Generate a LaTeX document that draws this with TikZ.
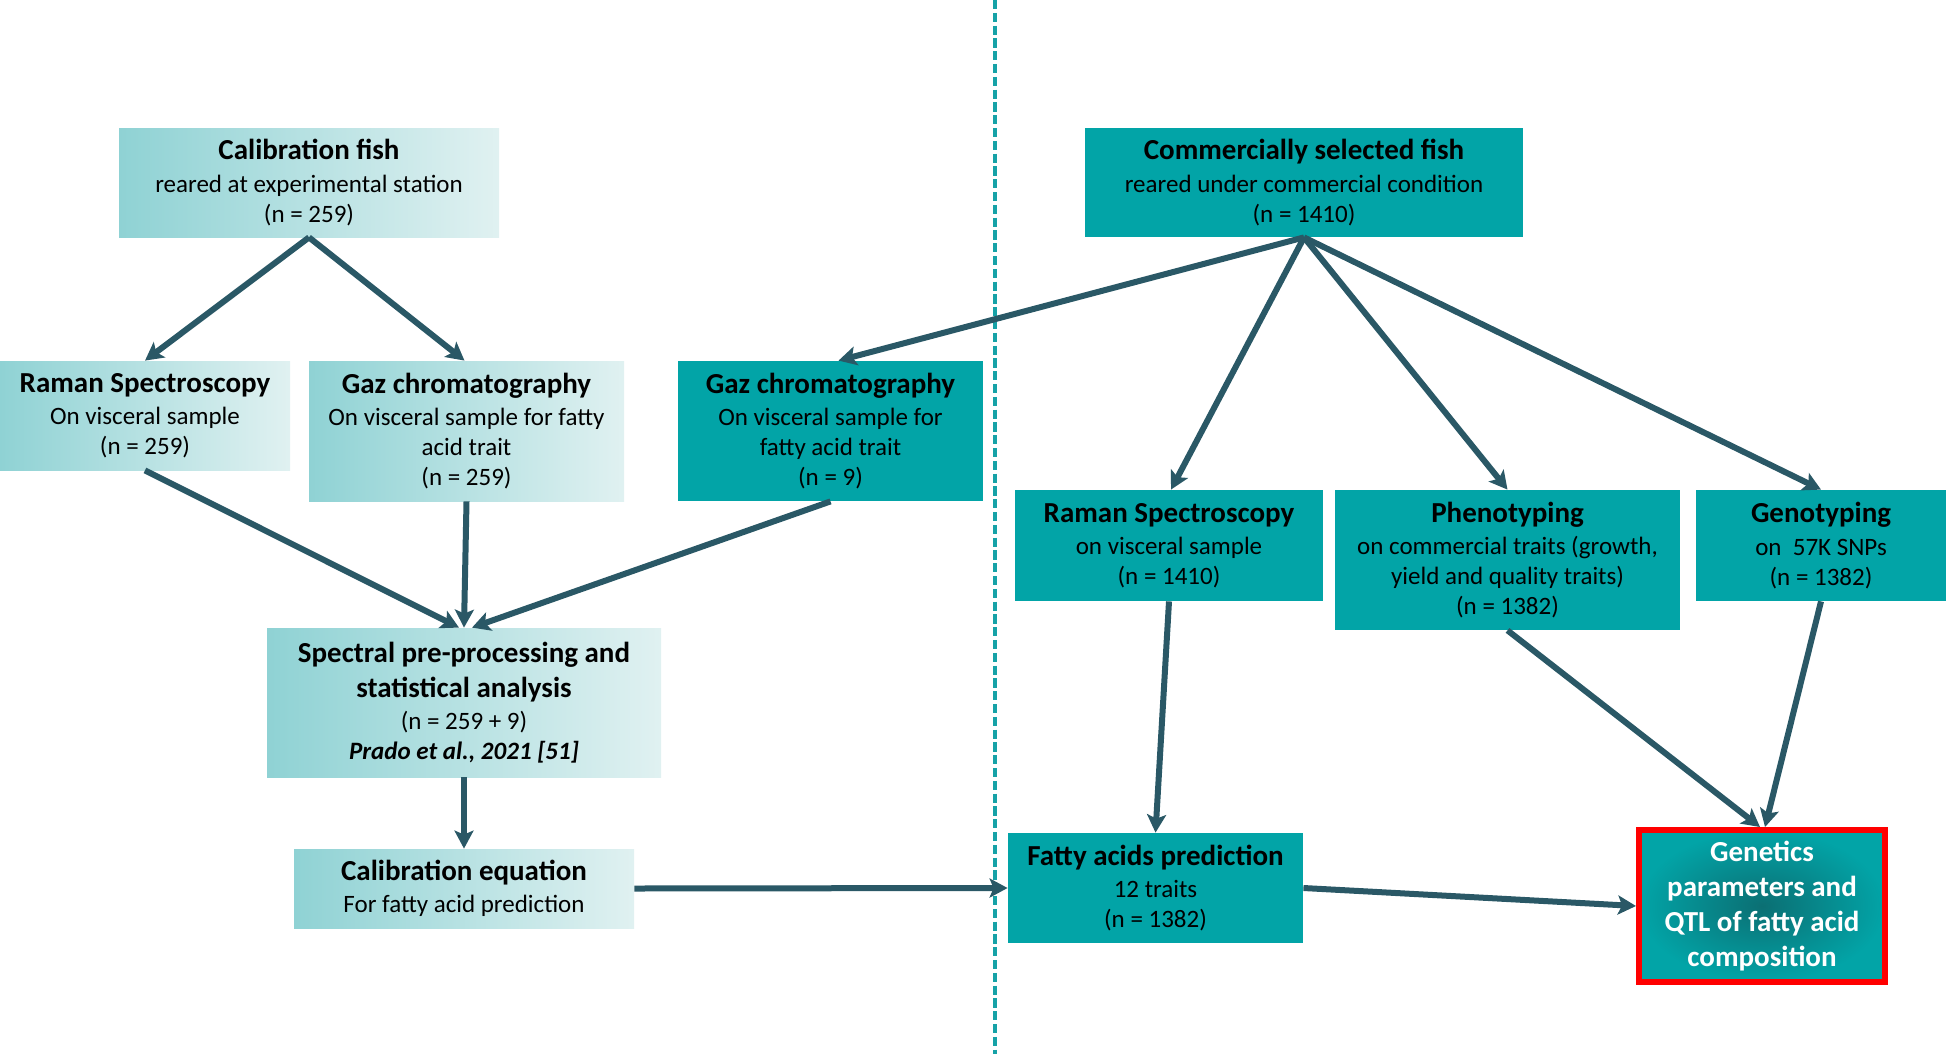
\documentclass[tikz,border=0pt]{standalone}
\usepackage{fontspec}
\setmainfont{Carlito}
\usetikzlibrary{arrows.meta,calc}
\definecolor{lL}{HTML}{8FD2D4}
\definecolor{lR}{HTML}{E0F1F1}
\definecolor{tealD}{HTML}{02A4A7}
\definecolor{tealIn}{HTML}{0B6F73}
\definecolor{arrC}{HTML}{2A5866}
\definecolor{sepC}{HTML}{16A2A7}
\definecolor{redB}{HTML}{FF0000}
\newcommand{\ttl}[1]{{\fontsize{14.5}{17.5}\selectfont\bfseries #1}}
\begin{document}
\begin{tikzpicture}[x=0.5pt,y=-0.5pt,
  box/.style={inner sep=0pt, align=center, font=\fontsize{12.5}{15}\selectfont, text=black},
  light/.style={box, left color=lL, right color=lR},
  dark/.style={box, fill=tealD},
  arr/.style={draw=arrC, line width=3pt, -{Stealth[length=9pt,width=9.5pt,inset=2pt]}},
  sep/.style={draw=sepC, line width=1.6pt, dash pattern=on 4.6pt off 1.8pt}
]
\useasboundingbox (0,0) rectangle (1946,1054);
\coordinate (sepT) at (995,0);
\coordinate (sepB) at (995,1054);
\draw[sep] (sepT) -- (sepB);

\node[light, minimum width=190pt, minimum height=54.5pt] (calfish) at (309,182.5)
  {\ttl{Calibration fish}\\[1.2pt]reared at experimental station\\(n = 259)};
\node[light, minimum width=145pt, minimum height=54.5pt] (ramanL) at (145,415.5)
  {\ttl{Raman Spectroscopy}\\[1.2pt]On visceral sample\\(n = 259)};
\node[light, minimum width=157.5pt, minimum height=70pt] (gazL) at (466.5,431)
  {\ttl{Gaz chromatography}\\[1.2pt]On visceral sample for fatty\\acid trait\\(n = 259)};
\node[dark, minimum width=152.5pt, minimum height=70pt] (gazM) at (830.5,431)
  {\ttl{Gaz chromatography}\\[1.2pt]On visceral sample for\\fatty acid trait\\(n = 9)};
\node[dark, minimum width=219pt, minimum height=54.5pt] (comm) at (1304,182.5)
  {\ttl{Commercially selected fish}\\[1.2pt]reared under commercial condition\\(n = 1410)};
\node[dark, minimum width=154pt, minimum height=55.5pt] (ramanR) at (1169,545.5)
  {\ttl{Raman Spectroscopy}\\[1.2pt]on visceral sample\\(n = 1410)};
\node[dark, minimum width=172.5pt, minimum height=70pt] (pheno) at (1507.5,560)
  {\ttl{Phenotyping}\\[1.2pt]on commercial traits (growth,\\yield and quality traits)\\(n = 1382)};
\node[dark, minimum width=125pt, minimum height=55.5pt] (geno) at (1821,545.5)
  {\ttl{Genotyping}\\[1.2pt]on\ \ 57K SNPs\\(n = 1382)};
\node[light, minimum width=197pt, minimum height=74.5pt] (spectral) at (464,702.5)
  {\ttl{Spectral pre-processing and}\\[2.5pt]\ttl{statistical analysis}\\[1.2pt](n = 259 + 9)\\\textbf{\textit{Prado et al., 2021 [51]}}};
\node[light, minimum width=170pt, minimum height=39.5pt] (caleq) at (464,888.5)
  {\ttl{Calibration equation}\\[1.2pt]For fatty acid prediction};
\node[dark, minimum width=147.5pt, minimum height=55pt] (fatty) at (1155.5,888)
  {\ttl{Fatty acids prediction}\\[1.2pt]12 traits\\(n = 1382)};
\node[box, draw=redB, line width=3pt, inner color=tealIn, outer color=tealD,
      minimum width=123pt, minimum height=76pt, text=white,
      font=\fontsize{14.5}{17.5}\selectfont\bfseries] (genetics) at (1762,906)
  {Genetics\\parameters and\\QTL of fatty acid\\composition};

\draw[arr] (calfish.south) -- (ramanL.north);
\draw[arr] (calfish.south) -- ($(gazL.north)+(-2,0)$);
\draw[arr] (ramanL.south) -- ($(spectral.north)+(-5,0)$);
\draw[arr] (gazL.south) -- (spectral.north);
\draw[arr] (gazM.south) -- ($(spectral.north)+(8,0)$);
\draw[arr] (comm.south) -- ($(gazM.north)+(8,0)$);
\draw[arr] (comm.south) -- ($(ramanR.north)+(2,0)$);
\draw[arr] (comm.south) -- (pheno.north);
\draw[arr] (comm.south) -- (geno.north);
\draw[arr] (spectral.south) -- (caleq.north);
\draw[arr] (caleq.east) -- (fatty.west);
\draw[arr] (ramanR.south) -- (fatty.north);
\draw[arr] (fatty.east) -- (genetics.west);
\draw[arr] (pheno.south) -- ($(genetics.north)+(-2,0)$);
\draw[arr] (geno.south) -- ($(genetics.north)+(3,0)$);
\end{tikzpicture}
\end{document}
